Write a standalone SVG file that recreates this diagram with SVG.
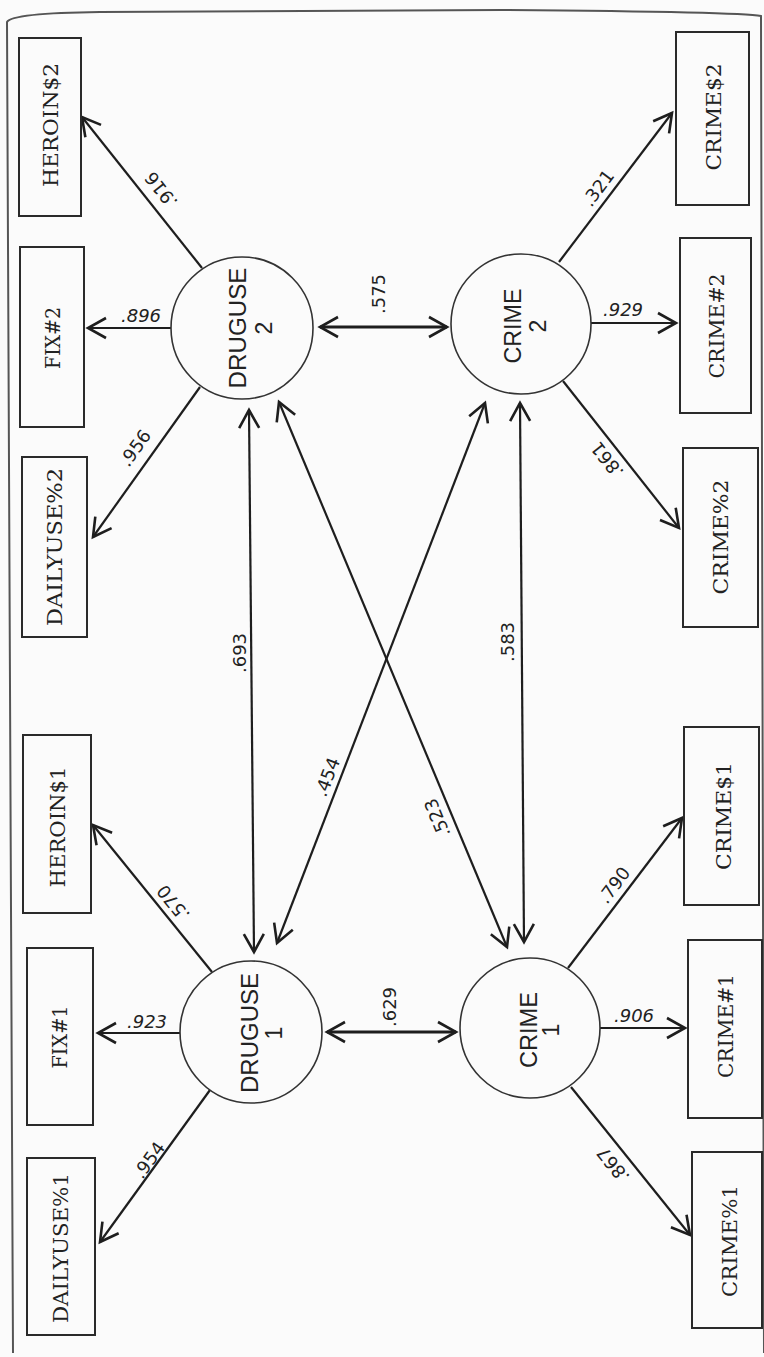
<svg xmlns="http://www.w3.org/2000/svg" width="764" height="1357" viewBox="0 0 764 1357">
<style>
.bx{fill:none;stroke:#2a2a2a;stroke-width:2}
.bt{font-family:"DejaVu Serif","Liberation Serif",serif;font-size:20.5px;fill:#222;text-anchor:middle;dominant-baseline:central}
.lv{fill:none;stroke:#333;stroke-width:1.6}
.lt{font-family:"Liberation Sans","DejaVu Sans",sans-serif;font-size:23px;fill:#222;text-anchor:middle;dominant-baseline:central}
.c{fill:none;stroke:#1e1e1e;stroke-width:2.2}
.cw{fill:none;stroke:#1e1e1e;stroke-width:3.2}
.nl{font-family:"DejaVu Sans","Liberation Sans",sans-serif;font-size:18px;fill:#222;text-anchor:middle;dominant-baseline:central}
.it{font-style:italic}
</style>
<defs>
<marker id="ah" viewBox="-22 -13 26 26" refX="0" refY="0" markerWidth="26" markerHeight="26" markerUnits="userSpaceOnUse" orient="auto-start-reverse" overflow="visible">
<path d="M-18,-10 L0,0 L-18,10" fill="none" stroke="#1e1e1e" stroke-width="2.6" stroke-linejoin="miter"/>
</marker>
</defs>
<rect x="0" y="0" width="764" height="1357" fill="#fbfbfb"/>
<path id="frame" d="M13,1353 L7,22 Q12,13 100,12 L500,10 Q740,12 761,16 L764,1353" fill="none" stroke="#555" stroke-width="2"/>

<g id="connectors">
<line class="c" x1="202" y1="268" x2="82" y2="117" marker-end="url(#ah)"/>
<line class="c" x1="171" y1="328" x2="88" y2="328" marker-end="url(#ah)"/>
<line class="c" x1="200" y1="387" x2="93" y2="537" marker-end="url(#ah)"/>
<line class="c" x1="559" y1="262" x2="672" y2="113" marker-end="url(#ah)"/>
<line class="c" x1="591" y1="323" x2="676" y2="323" marker-end="url(#ah)"/>
<line class="c" x1="563" y1="381" x2="679" y2="528" marker-end="url(#ah)"/>
<line class="cw" x1="320" y1="327" x2="447" y2="327" marker-start="url(#ah)" marker-end="url(#ah)"/>
<line class="c" x1="212" y1="972" x2="93" y2="825" marker-end="url(#ah)"/>
<line class="c" x1="180" y1="1033" x2="98" y2="1033" marker-end="url(#ah)"/>
<line class="c" x1="210" y1="1090" x2="100" y2="1242" marker-end="url(#ah)"/>
<line class="c" x1="568" y1="968" x2="682" y2="818" marker-end="url(#ah)"/>
<line class="c" x1="600" y1="1028" x2="685" y2="1028" marker-end="url(#ah)"/>
<line class="c" x1="571" y1="1087" x2="690" y2="1235" marker-end="url(#ah)"/>
<line class="cw" x1="327" y1="1032" x2="456" y2="1032" marker-start="url(#ah)" marker-end="url(#ah)"/>
<line class="c" x1="249" y1="410" x2="254" y2="952" marker-start="url(#ah)" marker-end="url(#ah)"/>
<line class="c" x1="520" y1="403" x2="524" y2="942" marker-start="url(#ah)" marker-end="url(#ah)"/>
<line class="c" x1="277" y1="943" x2="485" y2="403" marker-start="url(#ah)" marker-end="url(#ah)"/>
<line class="c" x1="279" y1="402" x2="507" y2="947" marker-start="url(#ah)" marker-end="url(#ah)"/>

<text class="nl" transform="translate(161,190) rotate(-128.4)">.916</text>
<text class="nl it" transform="translate(141,315)">.896</text>
<text class="nl" transform="translate(135,448) rotate(-54.5)">.956</text>
<text class="nl" transform="translate(598,188) rotate(-53)">.321</text>
<text class="nl it" transform="translate(623,309)">.929</text>
<text class="nl" transform="translate(607,460) rotate(-128.3)">.861</text>
<text class="nl" transform="translate(378,294) rotate(-90)">.575</text>
<text class="nl" transform="translate(239,653) rotate(-90)">.693</text>
<text class="nl" transform="translate(507,642) rotate(-90)">.583</text>
<text class="nl" transform="translate(327,777) rotate(-68.9)">.454</text>
<text class="nl" transform="translate(437,818) rotate(-112.7)">.523</text>
<text class="nl" transform="translate(173,903) rotate(-129)">.570</text>
<text class="nl it" transform="translate(147,1021)">.923</text>
<text class="nl" transform="translate(149,1160) rotate(-54.1)">.954</text>
<text class="nl" transform="translate(389,1007) rotate(-90)">.629</text>
<text class="nl" transform="translate(614,885) rotate(-52.8)">.790</text>
<text class="nl it" transform="translate(634,1015)">.906</text>
<text class="nl" transform="translate(613,1165) rotate(-128.8)">.867</text>
</g>

<g id="druguse2">
<circle class="lv" cx="242" cy="328" r="71"/>
<text class="lt" transform="translate(238,328) rotate(-90)" textLength="121" lengthAdjust="spacingAndGlyphs">DRUGUSE</text>
<text class="lt" transform="translate(264,328) rotate(-90)">2</text>
</g>
<g id="crime2">
<circle class="lv" cx="521" cy="324" r="70"/>
<text class="lt" transform="translate(513,326) rotate(-90)" textLength="75" lengthAdjust="spacingAndGlyphs">CRIME</text>
<text class="lt" transform="translate(538,326) rotate(-90)">2</text>
</g>
<g id="druguse1">
<circle class="lv" cx="251" cy="1032" r="71"/>
<text class="lt" transform="translate(250,1033) rotate(-90)" textLength="120" lengthAdjust="spacingAndGlyphs">DRUGUSE</text>
<text class="lt" transform="translate(274,1033) rotate(-90)">1</text>
</g>
<g id="crime1">
<circle class="lv" cx="530" cy="1028" r="70"/>
<text class="lt" transform="translate(529,1030) rotate(-90)" textLength="76" lengthAdjust="spacingAndGlyphs">CRIME</text>
<text class="lt" transform="translate(551,1030) rotate(-90)">1</text>
</g>

<g id="heroin2"><rect class="bx" x="19" y="38" width="62" height="178"/><text class="bt" transform="translate(51,125) rotate(-90)" textLength="124" lengthAdjust="spacingAndGlyphs">HEROIN$2</text></g>
<g id="fix2"><rect class="bx" x="20" y="247" width="64" height="180"/><text class="bt" transform="translate(53,338) rotate(-90)" textLength="62" lengthAdjust="spacingAndGlyphs">FIX#2</text></g>
<g id="dailyuse2"><rect class="bx" x="22" y="457" width="65" height="180"/><text class="bt" transform="translate(55,547) rotate(-90)" textLength="158" lengthAdjust="spacingAndGlyphs">DAILYUSE%2</text></g>
<g id="heroin1"><rect class="bx" x="23" y="735" width="68" height="178"/><text class="bt" transform="translate(58,827) rotate(-90)" textLength="121" lengthAdjust="spacingAndGlyphs">HEROIN$1</text></g>
<g id="fix1"><rect class="bx" x="27" y="948" width="66" height="177"/><text class="bt" transform="translate(60,1037) rotate(-90)" textLength="63" lengthAdjust="spacingAndGlyphs">FIX#1</text></g>
<g id="dailyuse1"><rect class="bx" x="27" y="1158" width="68" height="177"/><text class="bt" transform="translate(61,1248) rotate(-90)" textLength="150" lengthAdjust="spacingAndGlyphs">DAILYUSE%1</text></g>

<g id="crimes2"><rect class="bx" x="676" y="32" width="73" height="173"/><text class="bt" transform="translate(714,117) rotate(-90)" textLength="107" lengthAdjust="spacingAndGlyphs">CRIME$2</text></g>
<g id="crimeh2"><rect class="bx" x="680" y="238" width="71" height="175"/><text class="bt" transform="translate(717,326) rotate(-90)" textLength="105" lengthAdjust="spacingAndGlyphs">CRIME#2</text></g>
<g id="crimep2"><rect class="bx" x="683" y="448" width="75" height="179"/><text class="bt" transform="translate(721,537) rotate(-90)" textLength="115" lengthAdjust="spacingAndGlyphs">CRIME%2</text></g>
<g id="crimes1"><rect class="bx" x="684" y="727" width="75" height="178"/><text class="bt" transform="translate(724,816) rotate(-90)" textLength="108" lengthAdjust="spacingAndGlyphs">CRIME$1</text></g>
<g id="crimeh1"><rect class="bx" x="688" y="940" width="74" height="178"/><text class="bt" transform="translate(726,1026) rotate(-90)" textLength="104" lengthAdjust="spacingAndGlyphs">CRIME#1</text></g>
<g id="crimep1"><rect class="bx" x="692" y="1152" width="70" height="176"/><text class="bt" transform="translate(730,1241) rotate(-90)" textLength="112" lengthAdjust="spacingAndGlyphs">CRIME%1</text></g>
</svg>
